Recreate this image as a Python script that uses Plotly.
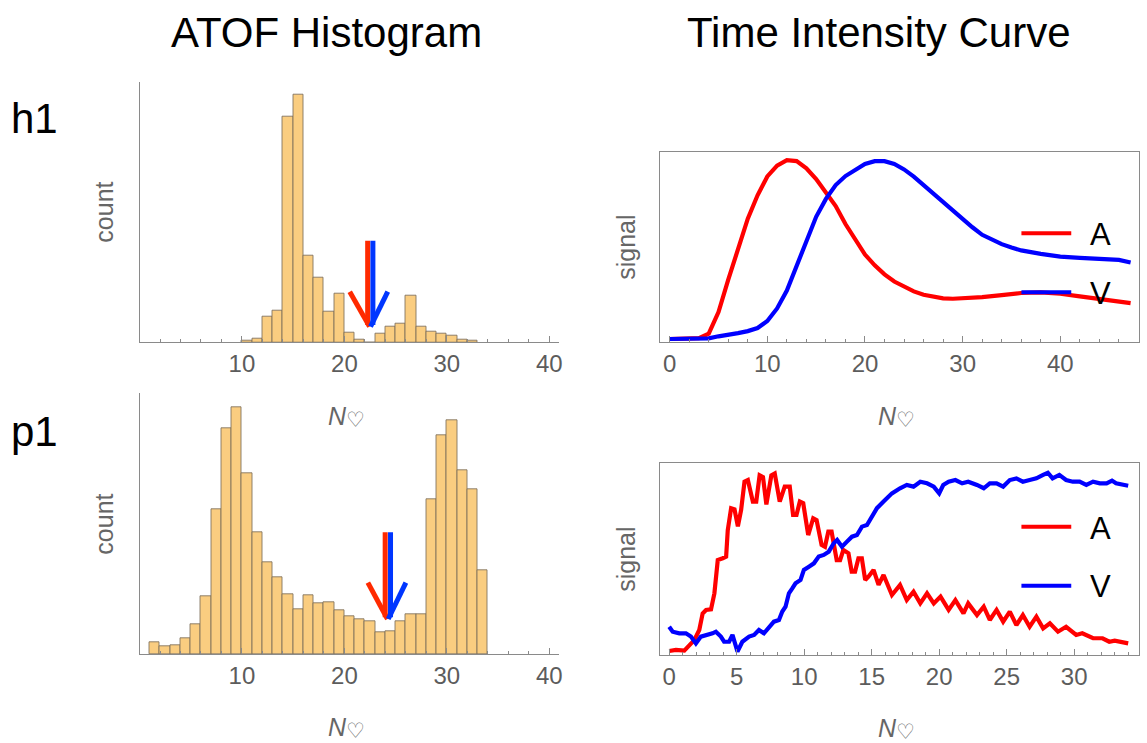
import plotly.graph_objects as go

W, H = 1147, 743

# ---------------- data ----------------
# ATOF histograms (bin width 1, bins start at given left edge)
h1_bin_start = 10
h1_counts = [4, 10, 76, 94, 676, 742, 260, 195, 92, 145, 28, 9, 0, 25, 48, 55, 140, 48, 33, 27, 20, 8, 5]
p1_bin_start = 1
p1_counts = [36, 24, 27, 48, 91, 175, 436, 677, 741, 544, 365, 277, 231, 180, 136, 177, 153, 155,
             132, 115, 104, 98, 67, 68, 98, 120, 120, 466, 658, 701, 551, 494, 251]

# split arrows (red = A, blue = V)
h1_arrow_red_x = [22.27, 22.27, None, 20.52, 22.45]
h1_arrow_red_y = [305, 52, None, 152, 47]
h1_arrow_blue_x = [22.78, 22.78, None, 24.23, 22.55]
h1_arrow_blue_y = [305, 52, None, 152, 47]
p1_arrow_red_x = [23.98, 23.98, None, 22.29, 24.2]
p1_arrow_red_y = [366, 111, None, 215, 106]
p1_arrow_blue_x = [24.5, 24.5, None, 26.0, 24.28]
p1_arrow_blue_y = [366, 111, None, 215, 106]

# Time intensity curves h1
h1_A_t = [0, 1, 2, 3, 4, 5, 6, 7, 8, 9, 10, 11, 12, 13, 14, 15, 16, 17, 18, 19, 20, 21, 22, 23, 24, 25,
          26, 27, 28, 29, 30, 32, 34, 36, 38, 40, 42, 44, 46, 47.2]
h1_A = [0, 0, 0, 0.005, 0.03, 0.15, 0.33, 0.51, 0.67, 0.80, 0.905, 0.965, 0.995, 0.99, 0.95, 0.89, 0.81,
        0.74, 0.64, 0.55, 0.47, 0.41, 0.36, 0.32, 0.29, 0.265, 0.246, 0.233, 0.226, 0.224, 0.226, 0.233,
        0.244, 0.256, 0.26, 0.252, 0.237, 0.222, 0.206, 0.2]
h1_V_t = [0, 2, 4, 5, 6, 7, 8, 9, 10, 11, 12, 13, 14, 15, 16, 17, 18, 19, 20, 21, 22, 23, 24, 25, 26, 27,
          28, 29, 30, 31, 32, 33, 34, 35, 36, 38, 40, 42, 44, 46, 47.2]
h1_V = [0, 0, 0.004, 0.015, 0.022, 0.033, 0.044, 0.061, 0.1, 0.17, 0.27, 0.405, 0.55, 0.68, 0.78, 0.857,
        0.907, 0.944, 0.974, 0.99, 0.99, 0.974, 0.944, 0.904, 0.857, 0.81, 0.76, 0.71, 0.663, 0.622, 0.58,
        0.552, 0.528, 0.509, 0.493, 0.474, 0.459, 0.452, 0.446, 0.44, 0.426]

# Time intensity curves p1
p1_A_t = [0, 0.5, 1.12, 1.49, 1.86, 2.23, 2.48, 2.73, 3.1, 3.35, 3.6, 3.97, 4.22, 4.34, 4.59, 4.84, 5.09,
          5.33, 5.58, 5.83, 6.2, 6.45, 6.7, 6.95, 7.2, 7.57, 7.82, 8.19, 8.56, 8.93, 9.18, 9.43, 9.68, 9.93,
          10.3, 10.67, 10.92, 11.29, 11.54, 11.79, 12.03, 12.41, 12.66, 12.9, 13.28, 13.52, 13.77, 14.02,
          14.27, 14.52, 14.76, 15.14, 15.51, 15.88, 16.5, 17.1, 17.6, 18.1, 18.6, 19.1, 19.6, 20.1, 20.7,
          21.2, 21.8, 22.15, 22.8, 23.3, 23.75, 24.25, 24.74, 25.23, 25.72, 26.2, 26.7, 27.2, 27.7, 28.2,
          28.8, 29.4, 30.15, 30.6, 31.4, 32.1, 32.6, 33.0, 33.5, 34.0]
p1_A = [0.018, 0.024, 0.02, 0.051, 0.078, 0.133, 0.224, 0.243, 0.246, 0.334, 0.516, 0.526, 0.535, 0.68,
        0.80, 0.794, 0.70, 0.79, 0.945, 0.954, 0.836, 0.836, 0.98, 0.97, 0.82, 0.98, 0.99, 0.836, 0.918,
        0.918, 0.763, 0.763, 0.836, 0.827, 0.653, 0.745, 0.735, 0.599, 0.589, 0.672, 0.672, 0.516, 0.516,
        0.571, 0.553, 0.453, 0.453, 0.526, 0.526, 0.407, 0.425, 0.462, 0.38, 0.434, 0.325, 0.38, 0.297,
        0.343, 0.279, 0.334, 0.279, 0.316, 0.243, 0.297, 0.224, 0.279, 0.215, 0.261, 0.188, 0.243, 0.179,
        0.234, 0.16, 0.215, 0.151, 0.206, 0.142, 0.17, 0.124, 0.151, 0.106, 0.115, 0.088, 0.088, 0.069,
        0.075, 0.07, 0.06]
p1_V_t = [0, 0.26, 0.75, 1.24, 1.61, 1.98, 2.35, 2.84, 3.21, 3.46, 3.83, 4.07, 4.44, 4.69, 5.06, 5.42,
          5.92, 6.29, 6.65, 7.02, 7.39, 7.76, 8.13, 8.38, 8.62, 8.87, 9.12, 9.36, 9.73, 9.98, 10.35, 10.72,
          11.08, 11.45, 11.82, 12.19, 12.44, 12.8, 13.17, 13.54, 13.91, 14.28, 14.65, 15.02, 15.39, 15.88,
          16.5, 17.1, 17.6, 18.1, 18.6, 19.1, 19.6, 20.0, 20.3, 20.7, 21.2, 21.7, 22.15, 22.8, 23.3, 23.75,
          24.25, 24.74, 25.23, 25.72, 26.2, 26.7, 27.2, 27.7, 28.05, 28.4, 28.9, 29.4, 29.9, 30.4, 30.9,
          31.4, 31.9, 32.4, 32.8, 33.1, 33.5, 34.0]
p1_V = [0.151, 0.124, 0.115, 0.115, 0.097, 0.06, 0.097, 0.106, 0.115, 0.124, 0.097, 0.069, 0.069, 0.106,
        0.015, 0.069, 0.097, 0.106, 0.133, 0.115, 0.151, 0.179, 0.188, 0.234, 0.261, 0.334, 0.361, 0.389,
        0.407, 0.462, 0.48, 0.498, 0.535, 0.544, 0.562, 0.608, 0.626, 0.589, 0.617, 0.644, 0.653, 0.699,
        0.708, 0.754, 0.80, 0.836, 0.881, 0.909, 0.927, 0.918, 0.945, 0.936, 0.918, 0.881, 0.927, 0.945,
        0.954, 0.936, 0.945, 0.927, 0.909, 0.936, 0.936, 0.918, 0.954, 0.963, 0.945, 0.954, 0.963, 0.982,
        0.994, 0.963, 0.982, 0.954, 0.945, 0.945, 0.927, 0.945, 0.936, 0.936, 0.951, 0.936, 0.93, 0.923]

titles = ["ATOF Histogram", "Time Intensity Curve"]
row_labels = ["h1", "p1"]
legend_labels = ["A", "V"]
x_title_main = "<i>N</i>"
x_title_sub = "♡"

# ---------------- styling ----------------
FONT = "Liberation Sans, Arial, Helvetica, sans-serif"
BAR_FILL = "rgb(250,205,128)"
BAR_EDGE = "rgba(125,110,90,0.85)"
AX = "#8a8a8a"
TICKFONT = dict(family=FONT, size=24, color="#5c5c5c")
RED = "#ff0000"
BLUE = "#0000ff"
ARED = "#ff2a00"
ABLUE = "#0036ff"


def px(x):
    return x / W


def py(y):
    return 1 - y / H


fig = go.Figure()

# histograms
hx1 = [h1_bin_start + i + 0.5 for i in range(len(h1_counts))]
hx2 = [p1_bin_start + i + 0.5 for i in range(len(p1_counts))]
fig.add_trace(go.Bar(x=hx1, y=h1_counts, width=1, marker=dict(color=BAR_FILL, line=dict(color=BAR_EDGE, width=1)),
                     xaxis="x", yaxis="y"))
fig.add_trace(go.Bar(x=hx2, y=p1_counts, width=1, marker=dict(color=BAR_FILL, line=dict(color=BAR_EDGE, width=1)),
                     xaxis="x2", yaxis="y2"))

# arrows
for xs, ys, c, ax_, ay_ in [
    (h1_arrow_red_x, h1_arrow_red_y, ARED, "x", "y"),
    (h1_arrow_blue_x, h1_arrow_blue_y, ABLUE, "x", "y"),
    (p1_arrow_red_x, p1_arrow_red_y, ARED, "x2", "y2"),
    (p1_arrow_blue_x, p1_arrow_blue_y, ABLUE, "x2", "y2"),
]:
    fig.add_trace(go.Scatter(x=xs, y=ys, mode="lines", line=dict(color=c, width=5),
                             xaxis=ax_, yaxis=ay_, hoverinfo="skip"))

# time intensity curves
LW = 4.2
fig.add_trace(go.Scatter(x=h1_A_t, y=h1_A, mode="lines", line=dict(color=RED, width=LW), xaxis="x3", yaxis="y3"))
fig.add_trace(go.Scatter(x=h1_V_t, y=h1_V, mode="lines", line=dict(color=BLUE, width=LW), xaxis="x3", yaxis="y3"))
fig.add_trace(go.Scatter(x=p1_A_t, y=p1_A, mode="lines", line=dict(color=RED, width=LW), xaxis="x4", yaxis="y4"))
fig.add_trace(go.Scatter(x=p1_V_t, y=p1_V, mode="lines", line=dict(color=BLUE, width=LW), xaxis="x4", yaxis="y4"))

hist_x = dict(range=[0, 40.95], showline=True, linecolor=AX, linewidth=1, ticks="inside", ticklen=6,
              tickcolor=AX, tickvals=[10, 20, 30, 40], tickfont=TICKFONT, showgrid=False, zeroline=False,
              minor=dict(dtick=2, tick0=0, ticks="inside", ticklen=3, tickcolor=AX, showgrid=False))
hist_y = dict(showline=True, linecolor=AX, linewidth=1, ticks="", showticklabels=False, showgrid=False,
              zeroline=False)
frame_x = dict(showline=True, mirror=True, linecolor=AX, linewidth=1, ticks="inside", ticklen=6, tickcolor=AX,
               tickfont=TICKFONT, showgrid=False, zeroline=False)
frame_y = dict(showline=True, mirror=True, linecolor=AX, linewidth=1, ticks="", showticklabels=False,
               showgrid=False, zeroline=False)

fig.update_layout(
    width=W, height=H, margin=dict(l=0, r=0, t=0, b=0),
    paper_bgcolor="white", plot_bgcolor="white", showlegend=False, bargap=0,
    xaxis=dict(**hist_x, domain=[px(140), px(561)], anchor="y"),
    yaxis=dict(**hist_y, domain=[py(342.3), py(81.7)], range=[0, 782], anchor="x"),
    xaxis2=dict(**hist_x, domain=[px(140), px(561)], anchor="y2"),
    yaxis2=dict(**hist_y, domain=[py(654.3), py(393.3)], range=[0, 783], anchor="x2"),
    xaxis3=dict(**frame_x, domain=[px(662.7), px(1142.7)], range=[-0.95, 48.03], anchor="y3",
                tickvals=[0, 10, 20, 30, 40],
                minor=dict(dtick=2, tick0=0, ticks="inside", ticklen=3, tickcolor=AX, showgrid=False)),
    yaxis3=dict(**frame_y, domain=[py(342), py(151.7)], range=[-0.0167, 1.0426], anchor="x3"),
    xaxis4=dict(**frame_x, domain=[px(662.7), px(1142.7)], range=[-0.65, 34.78], anchor="y4",
                tickvals=[0, 5, 10, 15, 20, 25, 30],
                minor=dict(dtick=1, tick0=0, ticks="inside", ticklen=3, tickcolor=AX, showgrid=False)),
    yaxis4=dict(**frame_y, domain=[py(655), py(463.3)], range=[-0.0036, 1.0456], anchor="x4"),
)

ann = []
# titles
ann.append(dict(text=titles[0], x=px(328), y=py(32), font=dict(family=FONT, size=42, color="black")))
ann.append(dict(text=titles[1], x=px(881.7), y=py(32), font=dict(family=FONT, size=42, color="black")))
# row labels
ann.append(dict(text=row_labels[0], x=px(35), y=py(118.5), font=dict(family=FONT, size=42, color="black")))
ann.append(dict(text=row_labels[1], x=px(35), y=py(431.5), font=dict(family=FONT, size=42, color="black")))
# y titles
for txt, x0, y0 in [("count", 104, 212), ("count", 104, 524), ("signal", 628, 247), ("signal", 628, 559)]:
    ann.append(dict(text=txt, x=px(x0), y=py(y0), textangle=-90, font=dict(family=FONT, size=25, color="#666666")))
# x titles: italic N with a heart subscript
for x0, y0 in [(339, 416), (339, 727), (891, 416), (891, 728)]:
    ann.append(dict(text=x_title_main, x=px(x0), y=py(y0), font=dict(family=FONT, size=25, color="#666666")))
    ann.append(dict(text=x_title_sub, x=px(x0 + 17.5), y=py(y0 + 3.5),
                    font=dict(family="DejaVu Sans", size=21, color="#666666")))
# legend labels
for txt, y0 in [(legend_labels[0], 235), (legend_labels[1], 293.3), (legend_labels[0], 528.4), (legend_labels[1], 586.7)]:
    ann.append(dict(text=txt, x=px(1104), y=py(y0), font=dict(family=FONT, size=31, color="black")))
for a in ann:
    a.update(xref="paper", yref="paper", showarrow=False, xanchor="center", yanchor="middle")
fig.update_layout(annotations=ann)

# legend line swatches
shapes = []
for y0, c in [(233.3, RED), (292.3, BLUE), (526.7, RED), (585.7, BLUE)]:
    shapes.append(dict(type="line", xref="paper", yref="paper", x0=px(1025), x1=px(1075), y0=py(y0), y1=py(y0),
                       line=dict(color=c, width=4)))
fig.update_layout(shapes=shapes)

fig.write_html("out.html", config={"displayModeBar": False},
               post_script="document.body.style.margin='0px';document.body.style.padding='0px';")
